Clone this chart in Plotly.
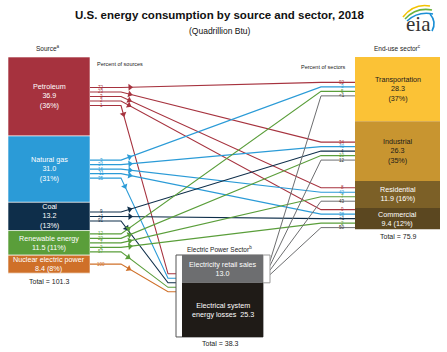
import math
import plotly.graph_objects as go

# left column: energy sources
sources = ["Petroleum", "Natural gas", "Coal", "Renewable energy", "Nuclear electric power"]
source_values = [36.9, 31.0, 13.2, 11.5, 8.4]
source_shares = [36, 31, 13, 11, 8]
source_total = 101.3

# right column: end-use sectors
sectors = ["Transportation", "Industrial", "Residential", "Commercial"]
sector_values = [28.3, 26.3, 11.9, 9.4]
sector_shares = [37, 35, 16, 12]
sector_total = 75.9

# electric power sector
electric_retail = 13.0
electric_losses = 25.3
electric_total = 38.3

# flows: source -> target, percent of source, percent of sector
flow_source = (["Petroleum"] * 5 + ["Natural gas"] * 5 + ["Coal"] * 3
               + ["Renewable energy"] * 5 + ["Nuclear electric power"])
flow_target = ["Transportation", "Industrial", "Residential", "Commercial", "Electric",
               "Transportation", "Industrial", "Residential", "Commercial", "Electric",
               "Industrial", "Commercial", "Electric",
               "Transportation", "Industrial", "Residential", "Commercial", "Electric",
               "Electric"]
flow_pct_source = ["72", "23", "3", "2", "1",
                   "3", "34", "16", "11", "35",
                   "9", "<1", "91",
                   "12", "22", "7", "2", "57",
                   "100"]
flow_pct_sector = ["92", "34", "8", "9", "",
                   "3", "40", "42", "38", "",
                   "4", "<1", "",
                   "5", "10", "7", "2", "",
                   ""]
# electricity retail sales -> sectors, percent of sector
elec_pct_sector = ["<1", "12", "43", "50"]

src_colors = ["#a6323e", "#2b9bd7", "#0e2e4a", "#5a9e3a", "#cf7029"]
sec_colors = ["#fbc236", "#c89530", "#7c6027", "#5b4720"]
sec_text = ["#1a1a1a", "#1a1a1a", "white", "white"]
gray = "#6d6e70"
FONT = "Arial, Liberation Sans, sans-serif"

# layout constants (pixels)
TOP = 57
LX0, LX1 = 8, 90
RX0, RX1 = 355, 440
SRC_SCALE = 2.14
SEC_SCALE = 2.27
GAP = 4.5
LBEND, RBEND = 121, 321
EX0, EX1, ETOP, EFRAME, EBRACK = 182, 263, 255, 176, 270

fig = go.Figure()
ann = []
shapes = []

def rows(center, n):
    return [center + (i - (n - 1) / 2) * GAP for i in range(n)]

def box_label(name, v, sh, h):
    if h > 28:
        return f"{name}<br>{v:.1f}<br>({sh}%)"
    return f"{name}<br>{v:.1f} ({sh}%)"

# source boxes
src_center = {}
y = TOP
for name, v, sh, c in zip(sources, source_values, source_shares, src_colors):
    h = v * SRC_SCALE
    shapes.append(dict(type="rect", x0=LX0, x1=LX1, y0=y, y1=y + h, fillcolor=c,
                       line=dict(width=0.6, color="white"), layer="below"))
    ann.append(dict(x=(LX0 + LX1) / 2, y=y + h / 2, text=box_label(name, v, sh, h),
                    showarrow=False, font=dict(size=7.2, color="white", family=FONT)))
    src_center[name] = y + h / 2
    y += h
ann.append(dict(x=(LX0 + LX1) / 2, y=y + 8, text=f"Total = {source_total}", showarrow=False,
                font=dict(size=7, color="#222", family=FONT)))

# sector boxes
sec_center = {}
y = TOP
for name, v, sh, c, tc in zip(sectors, sector_values, sector_shares, sec_colors, sec_text):
    h = v * SEC_SCALE
    shapes.append(dict(type="rect", x0=RX0, x1=RX1, y0=y, y1=y + h, fillcolor=c,
                       line=dict(width=0), layer="below"))
    ann.append(dict(x=(RX0 + RX1) / 2, y=y + h / 2, text=box_label(name, v, sh, h),
                    showarrow=False, font=dict(size=7.2, color=tc, family=FONT)))
    sec_center[name] = y + h / 2
    y += h
ann.append(dict(x=(RX0 + RX1) / 2, y=y + 7, text=f"Total = {sector_total}", showarrow=False,
                font=dict(size=7, color="#222", family=FONT)))

# electric power box
rh = electric_retail * SRC_SCALE
lh = electric_losses * SRC_SCALE
shapes.append(dict(type="rect", x0=EFRAME, x1=EX1, y0=ETOP, y1=ETOP + rh + lh,
                   fillcolor="white", line=dict(width=1, color="#555")))
shapes.append(dict(type="rect", x0=EX1, x1=EBRACK, y0=ETOP, y1=ETOP + rh,
                   fillcolor="white", line=dict(width=1, color="#999")))
shapes.append(dict(type="rect", x0=EX0, x1=EX1, y0=ETOP, y1=ETOP + rh, fillcolor=gray,
                   line=dict(width=0)))
shapes.append(dict(type="rect", x0=EX0, x1=EX1, y0=ETOP + rh, y1=ETOP + rh + lh,
                   fillcolor="#1f1b17", line=dict(width=0)))
ann.append(dict(x=(EX0 + EX1) / 2, y=ETOP + rh / 2, showarrow=False,
                text=f"Electricity retail sales<br>{electric_retail:.1f}",
                font=dict(size=7.2, color="white", family=FONT)))
ann.append(dict(x=(EX0 + EX1) / 2, y=ETOP + rh + lh / 2, showarrow=False,
                text=f"Electrical system<br>energy losses  {electric_losses:.1f}",
                font=dict(size=7.2, color="white", family=FONT)))
ann.append(dict(x=(EFRAME + EX1) / 2, y=ETOP + rh + lh + 7, showarrow=False,
                text=f"Total = {electric_total}", font=dict(size=7, color="#222", family=FONT)))
ann.append(dict(x=(EFRAME + EX1) / 2, y=ETOP - 6, showarrow=False,
                text="Electric Power Sector<sup>b</sup>", font=dict(size=6.5, color="#222", family=FONT)))

# row positions
src_rows = {}
for name in sources:
    idx = [i for i, s in enumerate(flow_source) if s == name]
    for i, yy in zip(idx, rows(src_center[name], len(idx))):
        src_rows[i] = yy

sec_rows = {}
elec_out = {}
for name in sectors:
    idx = [i for i, t in enumerate(flow_target) if t == name] + ["elec"]
    for i, yy in zip(idx, rows(sec_center[name], len(idx))):
        if i == "elec":
            elec_out[name] = yy
        else:
            sec_rows[i] = yy

ein = [i for i, t in enumerate(flow_target) if t == "Electric"]
for i, yy in zip(ein, rows(ETOP + rh, len(ein))):
    sec_rows[i] = yy
eout = rows(ETOP + rh / 2 - 1, len(sectors))

arrow_x, arrow_y, arrow_a, arrow_c = [], [], [], []

def add_arrow(x0, y0, x1, y1, c):
    dx, dy = x1 - x0, y1 - y0
    d = math.hypot(dx, dy)
    arrow_x.append(x0 + 9 * dx / d)
    arrow_y.append(y0 + 9 * dy / d)
    arrow_a.append(math.degrees(math.atan2(dx, -dy)))
    arrow_c.append(c)

# source flows
for i, (s, t) in enumerate(zip(flow_source, flow_target)):
    c = src_colors[sources.index(s)]
    ys, yt = src_rows[i], sec_rows[i]
    if t == "Electric":
        xb, xe = 168, EFRAME
    else:
        xb, xe = RBEND, RX0
    fig.add_trace(go.Scatter(x=[LX1, LBEND, xb, xe], y=[ys, ys, yt, yt], mode="lines",
                             line=dict(color=c, width=1.1), hoverinfo="skip"))
    add_arrow(LBEND, ys, xb, yt, c)
    ann.append(dict(x=101, y=ys, text=flow_pct_source[i], showarrow=False,
                    font=dict(size=4.5, color=c, family=FONT)))
    if flow_pct_sector[i]:
        ann.append(dict(x=342, y=yt, text=flow_pct_sector[i], showarrow=False,
                        font=dict(size=4.5, color=c, family=FONT)))

# electricity to sectors
for k, name in enumerate(sectors):
    ye, yt = eout[k], elec_out[name]
    fig.add_trace(go.Scatter(x=[EX1, EBRACK, RBEND, RX0], y=[ye, ye, yt, yt], mode="lines",
                             line=dict(color=gray, width=1), hoverinfo="skip"))
    ann.append(dict(x=342, y=yt, text=elec_pct_sector[k], showarrow=False,
                    font=dict(size=4.5, color="#333", family=FONT)))

fig.add_trace(go.Scatter(x=arrow_x, y=arrow_y, mode="markers", hoverinfo="skip",
                         marker=dict(symbol="triangle-up", size=6, angle=arrow_a, color=arrow_c)))

# headings
ann += [
    dict(x=219, y=15, text="<b>U.S. energy consumption by source and sector, 2018</b>",
         showarrow=False, font=dict(size=11.5, color="#111", family=FONT)),
    dict(x=220, y=31, text="(Quadrillion Btu)", showarrow=False,
         font=dict(size=8.5, color="#111", family=FONT)),
    dict(x=48, y=48, text="Source<sup>a</sup>", showarrow=False,
         font=dict(size=6.5, color="#222", family=FONT)),
    dict(x=397, y=48, text="End-use sector<sup>c</sup>", showarrow=False,
         font=dict(size=6.5, color="#222", family=FONT)),
    dict(x=95, y=64, text="Percent of sources", showarrow=False, xanchor="left",
         font=dict(size=5.5, color="#222", family=FONT)),
    dict(x=348, y=67, text="Percent of sectors", showarrow=False, xanchor="right",
         font=dict(size=5.5, color="#222", family=FONT)),
    dict(x=418, y=24, text="eia", showarrow=False,
         font=dict(size=21, color="#333", family="Liberation Serif, serif")),
]

# eia logo swooshes
for path, c in [("M 403 17 Q 414 3 430 6", "#f2c200"),
                ("M 405 19 Q 416 7 432 10", "#6ab23d"),
                ("M 407 21 Q 418 11 433 14", "#1b8fd5"),
                ("M 430 14 Q 437 22 432 31", "#1b8fd5")]:
    shapes.append(dict(type="path", path=path, line=dict(color=c, width=1.6)))

fig.update_layout(
    width=447, height=352, margin=dict(l=0, r=0, t=0, b=0),
    paper_bgcolor="white", plot_bgcolor="white", showlegend=False,
    xaxis=dict(range=[0, 447], visible=False, fixedrange=True),
    yaxis=dict(range=[352, 0], visible=False, fixedrange=True),
    shapes=shapes, annotations=ann,
)
fig.write_html("out.html", config={"responsive": False, "displayModeBar": False},
               post_script="document.body.style.margin='0';")
